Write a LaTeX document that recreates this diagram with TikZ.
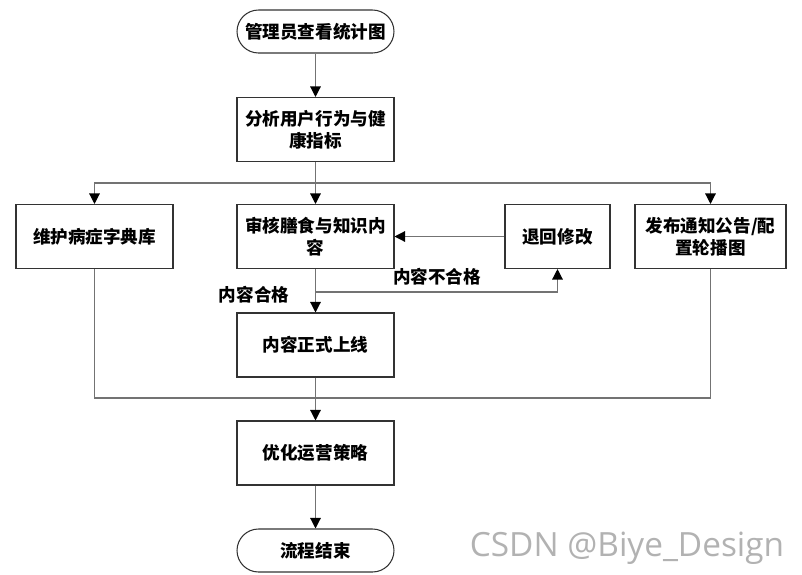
\documentclass[tikz,border=0pt]{standalone}
\usepackage{fontspec}
\setmainfont{Noto Sans CJK SC}
\newfontfamily\markfont{Open Sans}
\usetikzlibrary{arrows.meta}
\tikzset{
	box/.style={draw=black!80, line width=0.6pt, rectangle, minimum height=1.28cm, align=center, inner sep=2pt, font=\fontsize{10}{12.5}\selectfont\bfseries},
	term/.style={box, minimum height=0.86cm, rounded corners=0.43cm},
	line/.style={draw=black!55, line width=0.7pt},
	conn/.style={line, -{Triangle[length=6pt, width=6pt, color=black]}},
	lbl/.style={font=\fontsize{10}{12}\selectfont\bfseries}
}
\begin{document}
\begin{tikzpicture}[x=0.02cm, y=-0.02cm]
	\useasboundingbox (0,0) rectangle (802,575);
	\node[term, minimum width=3.14cm] (start) at (315.5,31.5){管理员查看统计图};
	\node[box, minimum width=3.14cm] (analyse) at (315.5,129.5){分析用户行为与健\\康指标};
	\node[box, minimum width=3.14cm] (dict) at (94.5,236.5){维护病症字典库};
	\node[box, minimum width=3.14cm] (review) at (315.5,236.5){审核膳食与知识内\\容};
	\node[box, minimum width=2.10cm] (back) at (557.5,236.5){退回修改};
	\node[box, minimum width=3.02cm] (notice) at (710.5,236.5){发布通知公告/配\\置轮播图};
	\node[box, minimum width=3.14cm] (online) at (315.5,345){内容正式上线};
	\node[box, minimum width=3.14cm] (optimize) at (315.5,453){优化运营策略};
	\node[term, minimum width=3.14cm] (finish) at (315.5,550.5){流程结束};
	\coordinate (split) at (315.5,183);
	\coordinate (fail) at (315.5,292);
	\coordinate (merge) at (315.5,398);
	\draw[conn] (start) -- (analyse);
	\draw[conn] (analyse) -- (review);
	\draw[conn] (split) -| (dict);
	\draw[conn] (split) -| (notice);
	\draw[conn] (back) -- (review);
	\draw[conn] (fail) -| (back);
	\draw[conn] (review) -- (online);
	\draw[line] (dict) |- (merge);
	\draw[line] (notice) |- (merge);
	\draw[conn] (online) -- (optimize);
	\draw[conn] (optimize) -- (finish);
	\node[lbl] (pass) at (254,295){内容合格};
	\node[lbl] (reject) at (437,277){内容不合格};
	\node[font=\markfont\fontsize{19}{22}\selectfont, text=black!30] (mark) at (627,548){CSDN @Biye\_Design};
\end{tikzpicture}
\end{document}
